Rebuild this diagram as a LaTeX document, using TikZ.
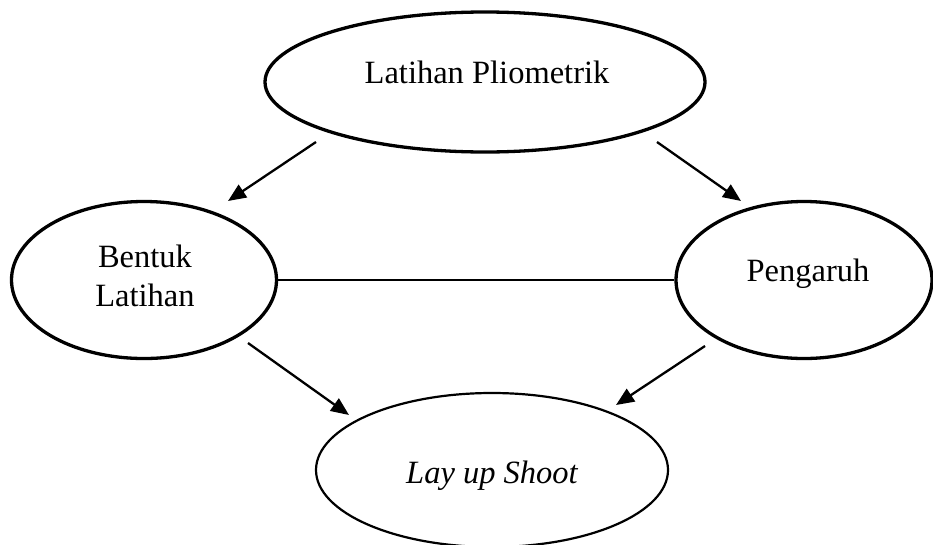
\documentclass[tikz,border=0pt]{standalone}
\usepackage{fontspec}
\setmainfont{Liberation Serif}
\usetikzlibrary{shapes.geometric,arrows.meta}
\begin{document}
\begin{tikzpicture}[x=1pt,y=-1pt,
  thickoval/.style={draw, ellipse, line width=3.3pt, inner sep=0pt},
  thinoval/.style={draw, ellipse, line width=2.2pt, inner sep=0pt},
  lbl/.style={anchor=base, inner sep=0pt, font=\fontsize{32.5}{39}\selectfont, align=center},
  arr/.style={line width=2.3pt, -{Triangle[length=18pt,width=15pt]}},
  link/.style={line width=2.1pt}]
\useasboundingbox (0,0) rectangle (933,544);
\clip (0,0) rectangle (933,544);
\fill[white] (0,0) rectangle (933,544);
% ellipses
\node[thickoval, minimum width=440pt, minimum height=140pt] (top) at (485,82) {};
\node[thickoval, minimum width=265pt, minimum height=157pt] (left) at (144,280) {};
\node[thickoval, minimum width=256pt, minimum height=157pt] (right) at (804,280) {};
\node[thinoval, minimum width=352pt, minimum height=154pt] (bottom) at (492,470) {};
% labels
\node[lbl] (ttop) at (487,83) {Latihan Pliometrik};
\node[lbl] (tleft1) at (145,267) {Bentuk};
\node[lbl] (tleft2) at (145,306) {Latihan};
\node[lbl] (tright) at (808,281) {Pengaruh};
\node[lbl] (tbottom) at (492,483) {\itshape Lay up Shoot};
% connector end points
\coordinate (a1s) at (316,142);
\coordinate (a1e) at (228,201);
\coordinate (a2s) at (657,142);
\coordinate (a2e) at (741,201);
\coordinate (a3s) at (248,343);
\coordinate (a3e) at (349,415);
\coordinate (a4s) at (705,346);
\coordinate (a4e) at (616,405);
% connectors
\draw[arr] (a1s) -- (a1e);
\draw[arr] (a2s) -- (a2e);
\draw[arr] (a3s) -- (a3e);
\draw[arr] (a4s) -- (a4e);
\draw[link] (left.east) -- (right.west);
\end{tikzpicture}
\end{document}
